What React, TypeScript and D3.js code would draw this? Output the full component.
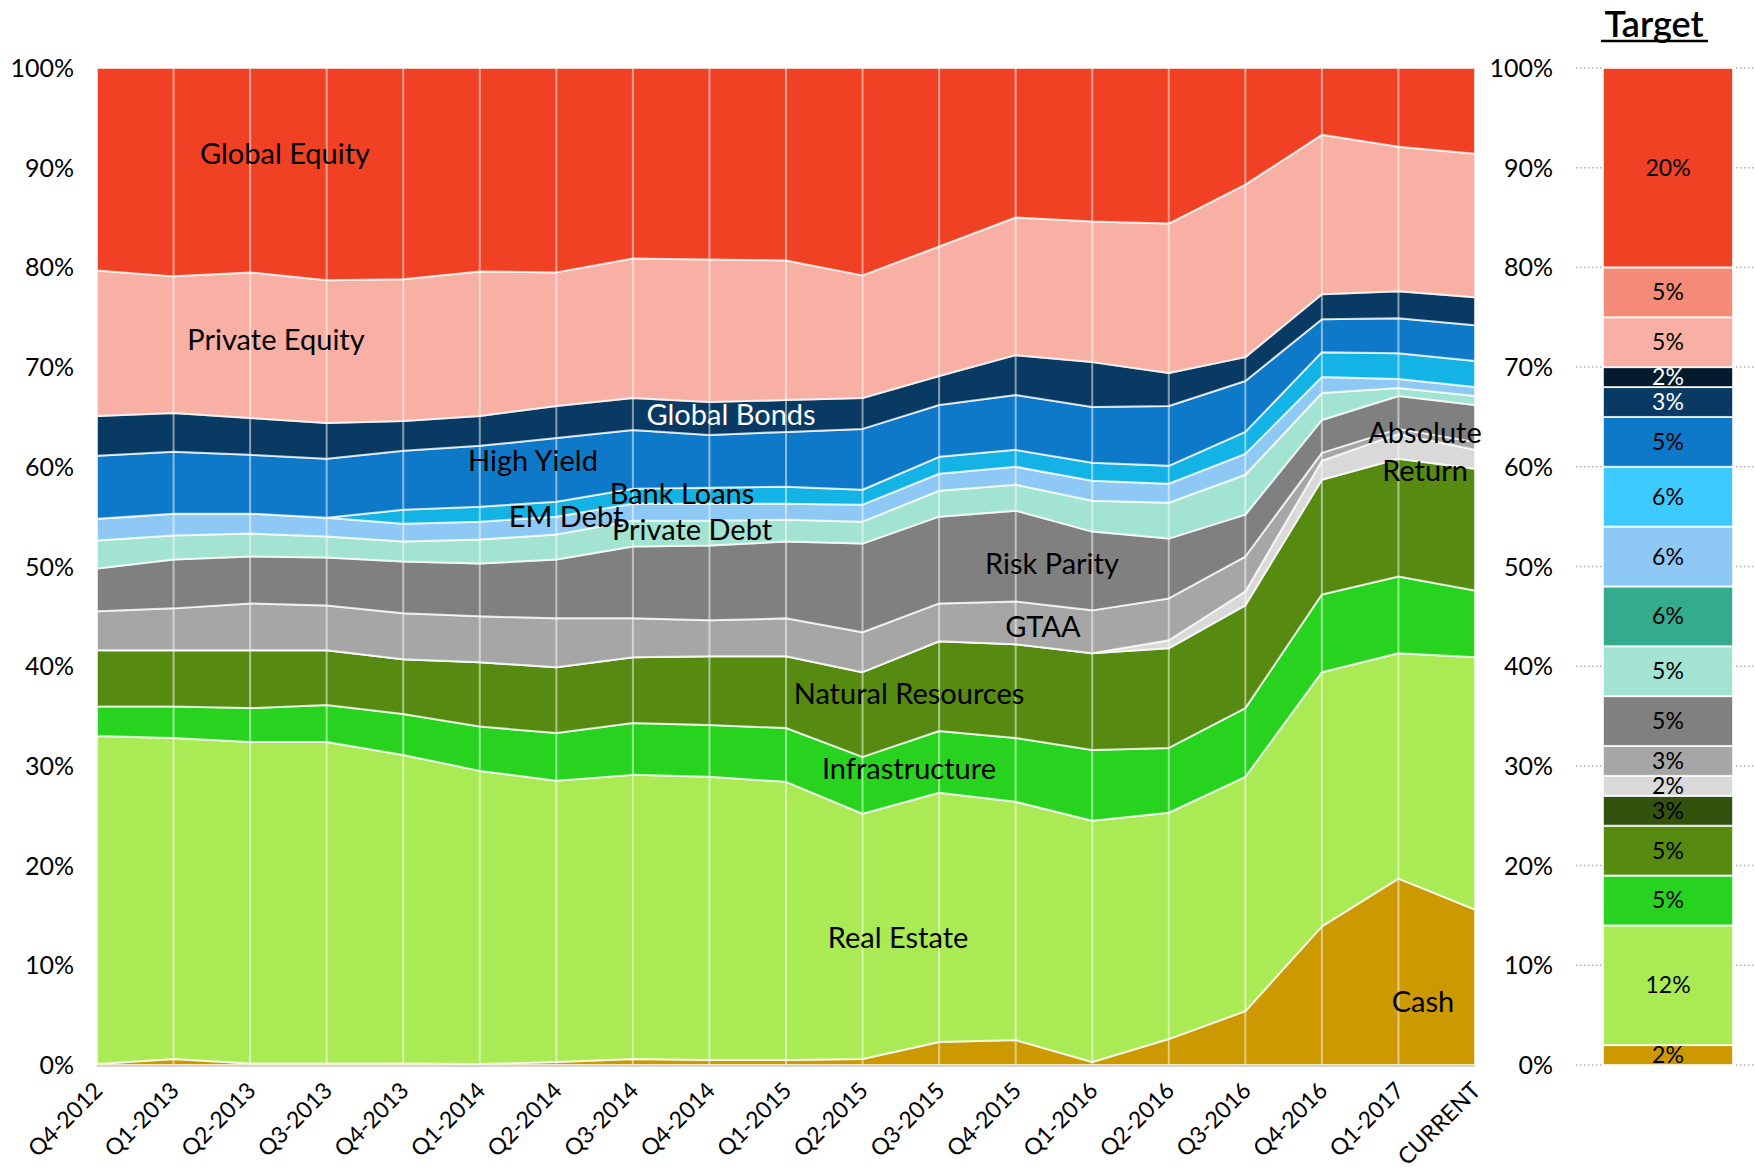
import * as d3 from 'd3'

// ── data ─────────────────────────────────────────────────────────────────────
const QUARTERS = ['Q4-2012', 'Q1-2013', 'Q2-2013', 'Q3-2013', 'Q4-2013', 'Q1-2014', 'Q2-2014', 'Q3-2014', 'Q4-2014', 'Q1-2015',
  'Q2-2015', 'Q3-2015', 'Q4-2015', 'Q1-2016', 'Q2-2016', 'Q3-2016', 'Q4-2016', 'Q1-2017', 'CURRENT']

// stacked bottom → top, % of portfolio
const CASH           = [0.1, 0.6, 0.15, 0.15, 0.15, 0.1, 0.3, 0.6, 0.5, 0.5, 0.6, 2.3, 2.5, 0.3, 2.6, 5.4, 13.9, 18.7, 15.6]
const REAL_ESTATE    = [32.9, 32.2, 32.25, 32.25, 30.95, 29.4, 28.2, 28.5, 28.4, 27.9, 24.6, 25.0, 23.9, 24.2, 22.7, 23.5, 25.5, 22.6, 25.3]
const INFRASTRUCTURE = [2.95, 3.15, 3.4, 3.7, 4.1, 4.45, 4.8, 5.2, 5.2, 5.4, 5.7, 6.2, 6.4, 7.1, 6.5, 6.9, 7.8, 7.7, 6.7]
const NAT_RESOURCES  = [5.65, 5.65, 5.8, 5.5, 5.5, 6.45, 6.6, 6.6, 6.9, 7.2, 8.5, 9.0, 9.4, 9.7, 10.0, 10.3, 11.5, 11.8, 12.2]
const ABS_RETURN     = [0, 0, 0, 0, 0, 0, 0, 0, 0, 0, 0, 0, 0, 0, 0.8, 1.4, 1.9, 2.5, 1.9]
const GTAA           = [3.9, 4.2, 4.7, 4.5, 4.6, 4.6, 4.9, 3.9, 3.6, 3.8, 4.0, 3.8, 4.3, 4.3, 4.2, 3.5, 0.8, 0.5, 0.8]
const RISK_PARITY    = [4.3, 4.9, 4.7, 4.8, 5.2, 5.3, 5.9, 7.2, 7.5, 7.7, 8.9, 8.7, 9.1, 7.9, 6.0, 4.2, 3.3, 3.3, 3.7]
const PRIVATE_DEBT   = [2.8, 2.4, 2.3, 2.1, 2.0, 2.4, 2.5, 2.6, 2.5, 2.2, 2.2, 2.6, 2.6, 3.1, 3.6, 4.0, 2.7, 0.8, 0.9]
const BANK_LOANS     = [2.2, 2.2, 2.0, 1.9, 1.8, 1.8, 1.8, 1.7, 1.7, 1.6, 1.7, 1.7, 1.8, 2.0, 1.9, 2.1, 1.6, 0.9, 0.9]
const EM_DEBT        = [0, 0, 0, 0, 1.4, 1.5, 1.5, 1.5, 1.6, 1.7, 1.5, 1.7, 1.7, 1.8, 1.8, 2.2, 2.5, 2.6, 2.6]
const HIGH_YIELD     = [6.3, 6.2, 5.9, 5.9, 5.9, 6.1, 6.4, 5.9, 5.3, 5.5, 6.1, 5.2, 5.5, 5.6, 6.0, 5.1, 3.3, 3.5, 3.6]
const GLOBAL_BONDS   = [4.0, 3.9, 3.7, 3.6, 3.0, 3.0, 3.2, 3.2, 3.3, 3.2, 3.1, 2.9, 4.0, 4.5, 3.3, 2.4, 2.5, 2.7, 2.8]
const PRIVATE_EQUITY = [14.6, 13.7, 14.6, 14.3, 14.2, 14.5, 13.4, 14.0, 14.3, 14.0, 12.3, 13.0, 13.8, 14.1, 15.0, 17.3, 16.0, 14.5, 14.4]
const GLOBAL_EQUITY  = [20.3, 20.9, 20.5, 21.3, 21.2, 20.4, 20.5, 19.1, 19.2, 19.3, 20.8, 17.9, 15.0, 15.4, 15.6, 11.7, 6.7, 7.9, 8.6]

const SERIES = [
  { key: 'cash',  values: CASH,           color: '#cc9900' },
  { key: 're',    values: REAL_ESTATE,    color: '#aaea55' },
  { key: 'infra', values: INFRASTRUCTURE, color: '#27d31f' },
  { key: 'nr',    values: NAT_RESOURCES,  color: '#568a11' },
  { key: 'ar',    values: ABS_RETURN,     color: '#d9d9d9' },
  { key: 'gtaa',  values: GTAA,           color: '#a6a6a6' },
  { key: 'rp',    values: RISK_PARITY,    color: '#808080' },
  { key: 'pd',    values: PRIVATE_DEBT,   color: '#a3e3d1' },
  { key: 'bl',    values: BANK_LOANS,     color: '#8ec9f5' },
  { key: 'em',    values: EM_DEBT,        color: '#13b3e6' },
  { key: 'hy',    values: HIGH_YIELD,     color: '#0e79c9' },
  { key: 'gb',    values: GLOBAL_BONDS,   color: '#083a63' },
  { key: 'pe',    values: PRIVATE_EQUITY, color: '#f8b0a4' },
  { key: 'ge',    values: GLOBAL_EQUITY,  color: '#f04125' },
]

// target allocation, bottom → top
const TARGET_VALUES = [2, 12, 5, 5, 3, 2, 3, 5, 5, 6, 6, 6, 5, 3, 2, 5, 5, 20]
const TARGET_COLORS = ['#cc9900', '#aaea55', '#27d31f', '#568a11', '#33520d', '#d9d9d9', '#a6a6a6', '#808080', '#a3e3d1',
  '#35ab8e', '#8ec9f5', '#3dcbff', '#0e79c9', '#083a63', '#041a2e', '#f8b0a4', '#f48a78', '#f04125']
const TARGET_TEXT   = ['#000', '#000', '#000', '#000', '#000', '#000', '#000', '#000', '#000',
  '#000', '#000', '#000', '#000', '#fff', '#fff', '#000', '#000', '#000']

const Y_TICKS = [0, 10, 20, 30, 40, 50, 60, 70, 80, 90, 100]

// ── layout ───────────────────────────────────────────────────────────────────
const W = 1755
const H = 1173
const X0 = 97
const X1 = 1475
const Y_TOP = 68
const Y_BOT = 1065
const BAR_X = 1603
const BAR_W = 130
const FONT = 'Lato, "Open Sans", sans-serif'

const LABELS: { text: string; x: number; y: number; fill?: string }[] = [
  { text: 'Global Equity',     x: 285,  y: 164 },
  { text: 'Private Equity',    x: 276,  y: 350 },
  { text: 'Global Bonds',      x: 731,  y: 425, fill: '#fff' },
  { text: 'High Yield',        x: 533,  y: 471 },
  { text: 'Bank Loans',        x: 682,  y: 504 },
  { text: 'EM Debt',           x: 566,  y: 527 },
  { text: 'Private Debt',      x: 692,  y: 540 },
  { text: 'Risk Parity',       x: 1052, y: 574 },
  { text: 'GTAA',              x: 1043, y: 637 },
  { text: 'Natural Resources', x: 909,  y: 704 },
  { text: 'Infrastructure',    x: 909,  y: 779 },
  { text: 'Real Estate',       x: 898,  y: 948 },
  { text: 'Cash',              x: 1423, y: 1012 },
  { text: 'Absolute',          x: 1425, y: 443 },
  { text: 'Return',            x: 1425, y: 481 },
]

export default function App() {
  const x = d3.scalePoint<string>().domain(QUARTERS).range([X0, X1])
  const y = d3.scaleLinear().domain([0, 100]).range([Y_BOT, Y_TOP])

  const rows = QUARTERS.map((q, i) => {
    const r: Record<string, number | string> = { q }
    SERIES.forEach(s => { r[s.key] = s.values[i] })
    return r
  })
  const stacked = d3.stack<Record<string, number | string>>()
    .keys(SERIES.map(s => s.key))
    .value((d, k) => d[k] as number)(rows)

  const area = d3.area<d3.SeriesPoint<Record<string, number | string>>>()
    .x(d => x(d.data.q as string)!)
    .y0(d => y(d[0]))
    .y1(d => y(d[1]))

  let acc = 0
  const targetSegs = TARGET_VALUES.map((v, i) => {
    const seg = { lo: acc, hi: acc + v, v, color: TARGET_COLORS[i], text: TARGET_TEXT[i] }
    acc += v
    return seg
  })

  return (
    <svg width={W} height={H} viewBox={`0 0 ${W} ${H}`}
      style={{ position: 'absolute', left: 0, top: 0, background: '#fff', fontFamily: FONT }}>

      {/* ── stacked areas ── */}
      {stacked.map((layer, i) => (
        <path key={layer.key} d={area(layer) ?? ''} fill={SERIES[i].color}
          stroke="rgba(255,255,255,0.75)" strokeWidth={2} strokeLinejoin="round" />
      ))}

      {/* ── vertical quarter lines ── */}
      {QUARTERS.slice(1, -1).map(q => (
        <line key={q} x1={x(q)} x2={x(q)} y1={Y_TOP} y2={Y_BOT}
          stroke="rgba(255,255,255,0.5)" strokeWidth={2} />
      ))}

      <line x1={X0} x2={X1} y1={Y_BOT + 1} y2={Y_BOT + 1} stroke="#d4d4d4" strokeWidth={2} />

      {/* ── area labels ── */}
      {LABELS.map(l => (
        <text key={l.text} x={l.x} y={l.y} textAnchor="middle" fontSize={29} fill={l.fill ?? '#000'}>{l.text}</text>
      ))}

      {/* ── left axis ── */}
      {Y_TICKS.map(t => (
        <text key={'l' + t} x={74} y={y(t) + 9} textAnchor="end" fontSize={25} fill="#000">{t}%</text>
      ))}

      {/* ── x axis labels ── */}
      {QUARTERS.map(q => (
        <text key={q} transform={`translate(${x(q)! + 7},${Y_BOT + 27}) rotate(-45)`}
          textAnchor="end" fontSize={23} fill="#000">{q}</text>
      ))}

      {/* ── target panel ── */}
      {Y_TICKS.map(t => (
        <g key={'r' + t}>
          <line x1={1576} x2={W} y1={y(t)} y2={y(t)} stroke="#b0b0b0" strokeWidth={1.5} strokeDasharray="1.5,2.5" />
          <text x={1553} y={y(t) + 9} textAnchor="end" fontSize={25} fill="#000">{t}%</text>
        </g>
      ))}

      {targetSegs.map((s, i) => (
        <g key={'t' + i}>
          <rect x={BAR_X} y={y(s.hi)} width={BAR_W} height={y(s.lo) - y(s.hi)} fill={s.color}
            stroke="rgba(255,255,255,0.8)" strokeWidth={2} />
          <text x={BAR_X + BAR_W / 2} y={(y(s.hi) + y(s.lo)) / 2 + 8} textAnchor="middle"
            fontSize={23} fill={s.text}>{s.v}%</text>
        </g>
      ))}

      <text x={1654} y={37} textAnchor="middle" fontSize={36} fontWeight={600} fill="#000">Target</text>
      <line x1={1601} x2={1708} y1={41} y2={41} stroke="#000" strokeWidth={2.5} />
    </svg>
  )
}
